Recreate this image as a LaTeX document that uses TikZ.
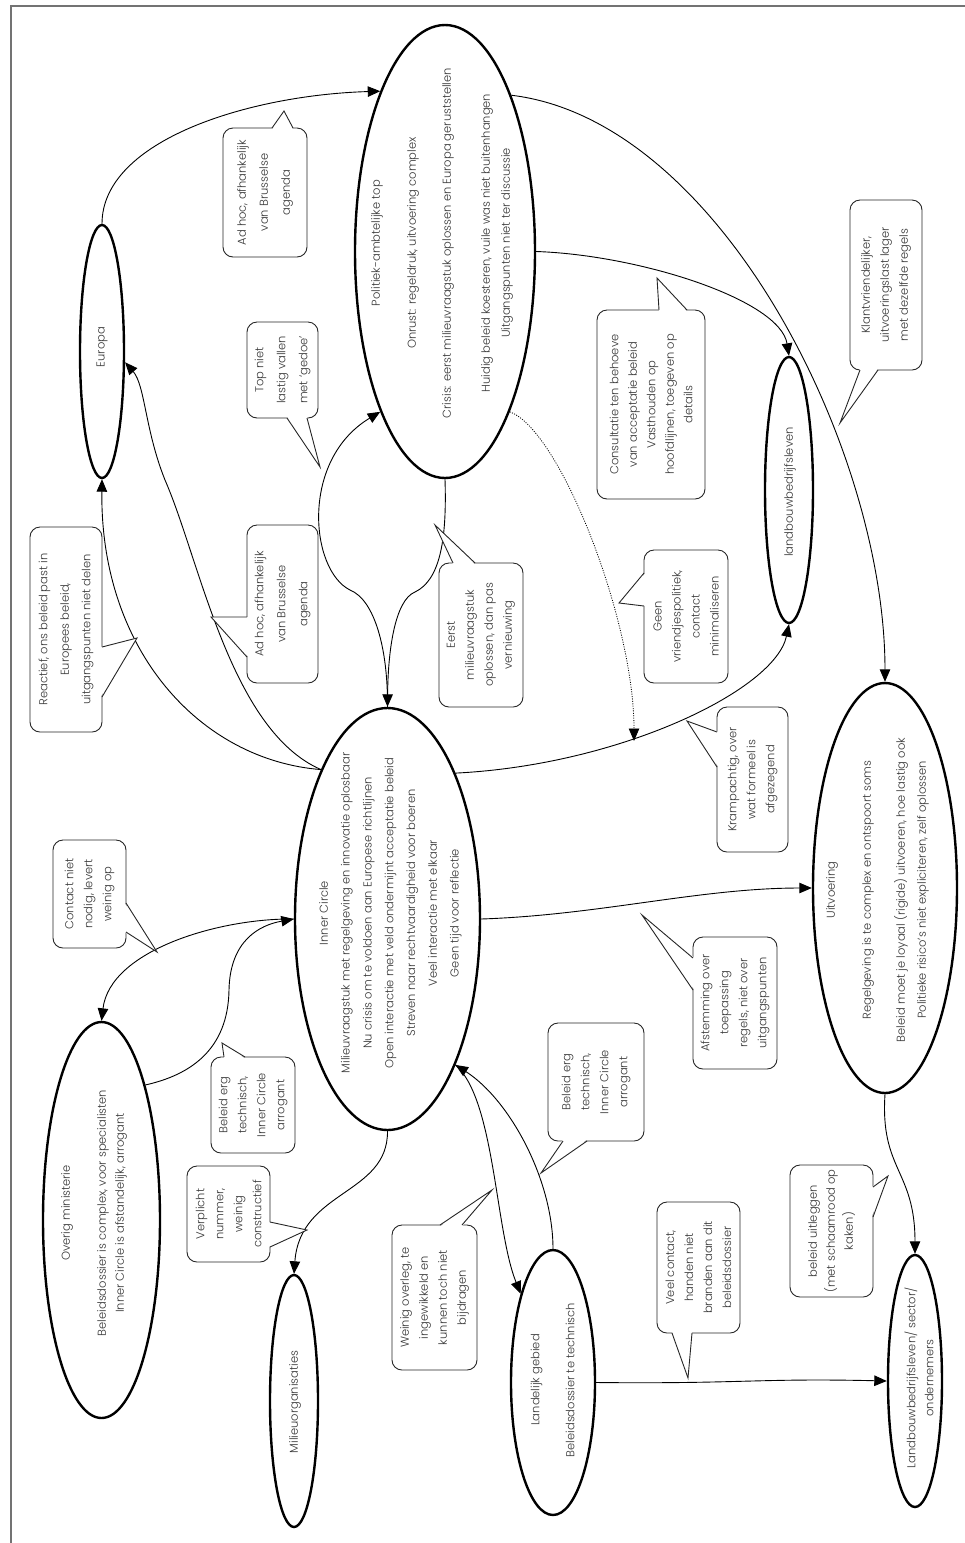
\documentclass[tikz,border=0pt]{standalone}
\usepackage{fontspec}
\IfFontExistsTF{Poppins Light}{\setmainfont{Poppins Light}}{\setmainfont{Poppins}}
\usetikzlibrary{shapes.geometric,arrows.meta}
\tikzset{
 ell/.style={ellipse, draw=black, line width=2.4pt, fill=white, inner sep=0pt},
 conn/.style={draw=black, line width=0.9pt, -{Triangle[length=12.5pt,width=10.5pt]}},
 cbox/.style={draw=black!85, line width=0.9pt, rounded corners=10pt, fill=white, inner sep=0pt},
 ctext/.style={rotate=90, align=center, text=black!78, inner sep=0pt, font=\fontsize{11.5}{19}\selectfont},
 etext/.style={rotate=90, align=center, text=black!78, inner sep=0pt, font=\fontsize{11.5}{20}\selectfont},
 cline/.style={draw=black!85, line width=0.9pt},
 framec/.style={draw=black!55, line width=1.1pt},
}
\newcommand{\ptr}[7]{%
  \fill[white] (#1+#6,#2+#7) -- (#5) -- (#3+#6,#4+#7) -- cycle;
  \draw[cline] (#1,#2) -- (#5) -- (#3,#4);
}
\begin{document}
\begin{tikzpicture}[x=1pt,y=-1pt]
\useasboundingbox (0,0) rectangle (965,1543);
\draw[framec] (11,1543) -- (11,6) -- (965,6);

% ellipses
\node[ell, minimum width=44pt, minimum height=253pt] (eu) at (102,351.5) {};
\node[ell, minimum width=180pt, minimum height=453pt] (pol) at (445,251.5) {};
\node[ell, minimum width=185pt, minimum height=422pt] (ic) at (387.5,919) {};
\node[ell, minimum width=48pt, minimum height=266pt] (lb) at (789,490) {};
\node[ell, minimum width=144pt, minimum height=410pt] (uit) at (885,888) {};
\node[ell, minimum width=117pt, minimum height=396pt] (om) at (101.5,1220) {};
\node[ell, minimum width=48pt, minimum height=252pt] (mo) at (294,1401) {};
\node[ell, minimum width=84pt, minimum height=265pt] (lg) at (553,1382.5) {};
\node[ell, minimum width=54pt, minimum height=252pt] (sec) at (915,1381) {};

% ellipse texts
\node[etext] at (102,347) {Europa};
\node[etext] at (442,243) {Politiek-ambtelijke top\\[16pt]Onrust: regeldruk, uitvoering complex\\[15pt]Crisis: eerst milieuvraagstuk oplossen en Europa geruststellen\\[19pt]Huidig beleid koesteren, vuile was niet buitenhangen\\Uitgangspunten niet ter discussie};
\node[etext, font=\fontsize{11.5}{21.8}\selectfont] at (390.5,913) {Inner Circle\\Milieuvraagstuk met regelgeving en innovatie oplosbaar\\Nu crisis om te voldoen aan Europese richtlijnen\\Open interactie met veld ondermijnt acceptatie beleid\\Streven naar rechtvaardigheid voor boeren\\Veel interactie met elkaar\\Geen tijd voor reflectie};
\node[etext] at (790,492) {landbouwbedrijfsleven};
\node[etext, font=\fontsize{11.5}{21}\selectfont] at (877.5,890) {Uitvoering\\[15pt]Regelgeving is te complex en ontspoort soms\\[13pt]Beleid moet je loyaal (rigide) uitvoeren, hoe lastig ook\\Politieke risico’s niet expliciteren, zelf oplossen};
\node[etext, font=\fontsize{11.5}{18}\selectfont] at (94,1213) {Overig ministerie\\[18pt]Beleidsdossier is complex, voor specialisten\\Inner Circle is afstandelijk, arrogant};
\node[etext] at (295,1402) {Milieuorganisaties};
\node[etext, font=\fontsize{11.5}{18}\selectfont] at (552.5,1380) {Landelijk gebied\\[17pt]Beleidsdossier te technisch};
\node[etext, font=\fontsize{11.5}{18}\selectfont] at (919,1378) {Landbouwbedrijfsleven/ sector/\\ondernemers};

% connectors
\draw[conn] (eu.north) .. controls (102,140) and (250,95) .. (pol.112);
\draw[conn] (pol.67) .. controls (720,120) and (885,450) .. (uit.north);
\draw[conn] (pol.east) .. controls (640,255) and (780,300) .. (lb.north);
\draw[conn] (ic.65) .. controls (620,765) and (775,690) .. (lb.south);
\coordinate (dotend) at (634,741);
\draw[conn, dash pattern=on 1pt off 1.4pt, line width=0.8pt] (pol.-68) .. controls (560,430) and (634,620) .. (dotend);
\draw[conn] (pol.south) .. controls (447,540) and (440,580) .. (415,592) .. controls (395,600) and (388,650) .. (ic.north);
\draw[conn] (ic.north) .. controls (388,650) and (375,600) .. (350,590) .. controls (310,570) and (300,460) .. (pol.248);
\draw[conn] (ic.114) .. controls (200,760) and (100,650) .. (eu.south);
\draw[conn] (ic.114) .. controls (230,730) and (200,560) .. (165,480) .. controls (145,430) and (145,385) .. (eu.-25);
\draw[conn] (om.72) .. controls (190,1075) and (228,1050) .. (229,990) .. controls (230,940) and (260,925) .. (ic.west);
\draw[conn] (ic.west) .. controls (220,918) and (110,950) .. (om.north);
\draw[conn] (ic.south) .. controls (388,1195) and (300,1190) .. (mo.north);
\draw[conn] (lg.north) .. controls (553,1180) and (510,1100) .. (ic.-65);
\draw[conn] (ic.-65) .. controls (495,1100) and (495,1230) .. (lg.110);
\draw[conn] (lg.east) .. controls (740,1384) and (760,1378) .. (sec.west);
\draw[conn] (ic.east) .. controls (600,915) and (700,888) .. (uit.west);
\draw[conn] (uit.south) .. controls (880,1170) and (915,1170) .. (sec.north);

% callouts
\node[cbox, minimum width=84pt, minimum height=129pt] (c1) at (265,192.5) {};
\coordinate (t1) at (284,111);
\ptr{272}{128}{293}{128}{t1}{0}{1.5}
\node[ctext, font=\fontsize{11.5}{22}\selectfont] at (c1) {Ad hoc, afhankelijk\\van Brusselse\\agenda};

\node[cbox, minimum width=71pt, minimum height=96pt] (c2) at (282.5,370) {};
\coordinate (t2) at (320,467);
\ptr{287}{418}{307}{418}{t2}{0}{-1.5}
\node[ctext, font=\fontsize{11.5}{22}\selectfont] at (c2) {Top niet\\lastig vallen\\met ‘gedoe’};

\node[cbox, minimum width=72pt, minimum height=205pt] (c3) at (66,629.5) {};
\coordinate (t3) at (137,638);
\ptr{102}{647}{102}{697}{t3}{-1.5}{0}
\node[ctext, font=\fontsize{11.5}{21.5}\selectfont] at (c3) {Reactief, ons beleid past in\\Europees beleid,\\uitgangspunten niet delen};

\node[cbox, minimum width=71pt, minimum height=158pt] (c4) at (282.5,604) {};
\coordinate (t4) at (211,617);
\ptr{247}{617}{247}{657}{t4}{1.5}{0}
\node[ctext, font=\fontsize{11.5}{22}\selectfont] at (c4) {Ad hoc, afhankelijk\\van Brusselse\\agenda};

\node[cbox, minimum width=84pt, minimum height=144pt] (c5) at (481,635) {};
\coordinate (t5) at (435,525);
\ptr{453}{563}{475}{563}{t5}{0}{1.5}
\node[ctext] at (c5) {Eerst\\milieuvraagstuk\\oplossen, dan pas\\vernieuwing};

\node[cbox, minimum width=108pt, minimum height=189pt] (c6) at (651,404.5) {};
\coordinate (t6) at (657,278);
\ptr{659}{310}{687}{310}{t6}{0}{1.5}
\node[ctext, font=\fontsize{11.5}{18.5}\selectfont] at (c6) {Consultatie ten behoeve\\van acceptatie beleid\\Vasthouden op\\hoofdlijnen, toegeven op\\details};

\node[cbox, minimum width=72pt, minimum height=170pt] (c7) at (886,285) {};
\coordinate (t7) at (840,423);
\ptr{860}{370}{878}{370}{t7}{0}{-1.5}
\node[ctext] at (c7) {Klantvriendelijker,\\uitvoeringslast lager\\met dezelfde regels};

\node[cbox, minimum width=84pt, minimum height=133pt] (c8) at (686,616.5) {};
\coordinate (t8) at (619,603);
\ptr{644}{573}{644}{606}{t8}{1.5}{0}
\node[ctext] at (c8) {Geen\\vriendjespolitiek,\\contact\\minimaliseren};

\node[cbox, minimum width=71pt, minimum height=145pt] (c9) at (752.5,779.5) {};
\coordinate (t9) at (687,721);
\ptr{717}{732}{717}{767}{t9}{1.5}{0}
\node[ctext] at (c9) {Krampachtig, over\\wat formeel is\\afgezegend};

\node[cbox, minimum width=73pt, minimum height=108pt] (c10) at (89.5,894) {};
\coordinate (t10) at (157,952);
\ptr{126}{903}{126}{932}{t10}{-1.5}{0}
\node[ctext] at (c10) {Contact niet\\nodig, levert\\weinig op};

\node[cbox, minimum width=84pt, minimum height=96pt] (c11) at (253,1105) {};
\coordinate (t11) at (222,1043);
\ptr{224}{1057}{245}{1057}{t11}{0}{1.5}
\node[ctext] at (c11) {Beleid erg\\technisch,\\Inner Circle\\arrogant};

\node[cbox, minimum width=83pt, minimum height=96pt] (c12) at (228.5,1214) {};
\coordinate (t12) at (307,1230);
\ptr{270}{1222}{270}{1247}{t12}{-1.5}{0}
\node[ctext] at (c12) {Verplicht\\nummer,\\weinig\\constructief};

\node[cbox, minimum width=85pt, minimum height=145pt] (c13) at (434.5,1297.5) {};
\coordinate (t13) at (492,1190);
\ptr{440}{1225}{462}{1225}{t13}{0}{1.5}
\node[ctext] at (c13) {Weinig overleg, te\\ingewikkeld en\\kunnen toch niet\\bijdragen};

\node[cbox, minimum width=96pt, minimum height=118pt] (c14) at (596,1082) {};
\coordinate (t14) at (541,1173);
\ptr{563}{1141}{587}{1141}{t14}{0}{-1.5}
\node[ctext] at (c14) {Beleid erg\\technisch,\\Inner Circle\\arrogant};

\node[cbox, minimum width=84pt, minimum height=132pt] (c15) at (735,1003) {};
\coordinate (t15) at (642,915);
\ptr{693}{958}{693}{990}{t15}{1.5}{0}
\node[ctext] at (c15) {Afstemming over\\toepassing\\regels, niet over\\uitgangspunten};

\node[cbox, minimum width=83pt, minimum height=131pt] (c16) at (698.5,1267.5) {};
\coordinate (t16) at (688,1378);
\ptr{672}{1333}{692}{1333}{t16}{0}{-1.5}
\node[ctext] at (c16) {Veel contact,\\handen niet\\branden aan dit\\beleidsdossier};

\node[cbox, minimum width=83pt, minimum height=132pt] (c17) at (831.5,1231) {};
\coordinate (t17) at (888,1176);
\ptr{873}{1187}{873}{1217}{t17}{-1.5}{0}
\node[ctext, font=\fontsize{11.5}{18}\selectfont] at (c17) {beleid uitleggen\\(met schaamrood op\\kaken)};
\end{tikzpicture}
\end{document}
